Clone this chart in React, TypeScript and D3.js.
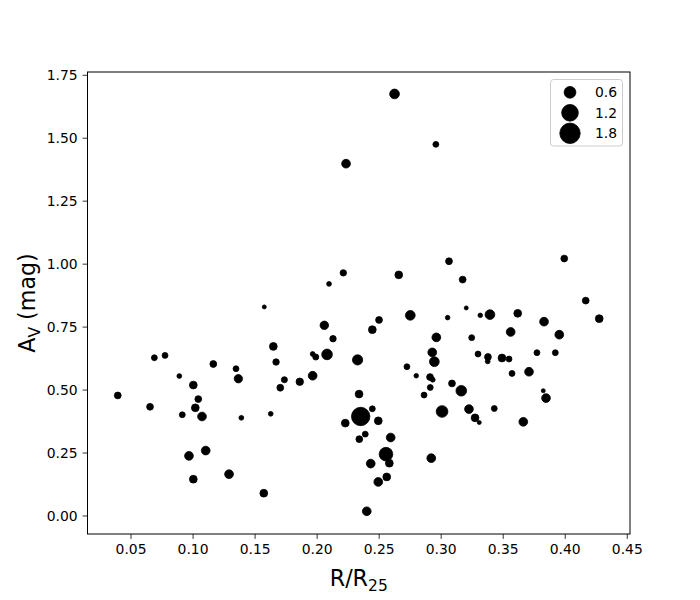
import React from "react";
import * as d3 from "d3";

// R/R25 values
const rr: number[] = [
  0.0393, 0.0653, 0.0688, 0.0774, 0.0889, 0.0913, 0.0967, 0.1002, 0.1002, 0.1042,
  0.1018, 0.1072, 0.1102, 0.1163, 0.129, 0.1346, 0.1365, 0.1389, 0.157, 0.1574,
  0.1626, 0.1647, 0.1669, 0.1703, 0.1736, 0.186, 0.1964, 0.1964, 0.1989, 0.2058,
  0.208, 0.2096, 0.2128, 0.2211, 0.2227, 0.2233, 0.2326, 0.2338, 0.2351, 0.234,
  0.2388, 0.24, 0.2432, 0.2445, 0.2445, 0.2493, 0.2493, 0.2499, 0.2555, 0.2561,
  0.2582, 0.2593, 0.2624, 0.2658, 0.2724, 0.2751, 0.2799, 0.2862, 0.291, 0.2932,
  0.2912, 0.292, 0.2928, 0.2945, 0.2957, 0.2961, 0.3007, 0.3052, 0.3063, 0.3087,
  0.3162, 0.3173, 0.3202, 0.3224, 0.3246, 0.3273, 0.3297, 0.3307, 0.3315, 0.3375,
  0.3377, 0.3393, 0.3428, 0.349, 0.3547, 0.356, 0.3571, 0.3617, 0.3662, 0.3708,
  0.3772, 0.3823, 0.3829, 0.3845, 0.392, 0.3952, 0.3992, 0.4165, 0.4274,
];

// A_V (mag) values
const av: number[] = [
  0.4785, 0.4336, 0.6285, 0.6376, 0.5557, 0.4018, 0.2387, 0.52, 0.146, 0.4642,
  0.4296, 0.395, 0.2597, 0.6034, 0.1659, 0.5847, 0.545, 0.3898, 0.0903, 0.8302,
  0.4057, 0.6734, 0.6114, 0.5092, 0.541, 0.533, 0.5569, 0.6432, 0.6313, 0.757,
  0.6416, 0.9216, 0.704, 0.9654, 0.3687, 1.399, 0.6197, 0.4841, 0.395, 0.3051,
  0.325, 0.0187, 0.208, 0.4256, 0.7399, 0.3779, 0.1352, 0.7784, 0.2454, 0.1551,
  0.2096, 0.3115, 1.6758, 0.9574, 0.5927, 0.7967, 0.5569, 0.4801, 0.5517, 0.541,
  0.5103, 0.2295, 0.6496, 0.6126, 1.4757, 0.7092, 0.4149, 0.7876, 1.0115, 0.5263,
  0.4972, 0.9387, 0.8262, 0.4244, 0.708, 0.3898, 0.6432, 0.3711, 0.7967, 0.6138,
  0.6313, 0.7995, 0.4268, 0.6273, 0.6233, 0.7307, 0.566, 0.8047, 0.3739, 0.5728,
  0.6484, 0.4972, 0.7717, 0.4682, 0.6484, 0.72, 1.0223, 0.8552, 0.7836,
];

// marker size variable
const sz: number[] = [
  0.2, 0.2, 0.15, 0.15, 0.1, 0.15, 0.33, 0.26, 0.26, 0.2,
  0.26, 0.33, 0.33, 0.2, 0.33, 0.15, 0.3, 0.1, 0.26, 0.07,
  0.1, 0.26, 0.18, 0.2, 0.16, 0.24, 0.33, 0.1, 0.16, 0.31,
  0.49, 0.1, 0.18, 0.18, 0.26, 0.33, 0.45, 0.26, 1.47, 0.2,
  0.15, 0.33, 0.33, 0.15, 0.26, 0.26, 0.33, 0.2, 0.8, 0.26,
  0.26, 0.33, 0.41, 0.26, 0.15, 0.41, 0.09, 0.15, 0.2, 0.1,
  0.15, 0.33, 0.33, 0.41, 0.15, 0.33, 0.59, 0.09, 0.2, 0.2,
  0.49, 0.2, 0.07, 0.33, 0.15, 0.26, 0.15, 0.07, 0.09, 0.1,
  0.2, 0.41, 0.15, 0.26, 0.15, 0.33, 0.15, 0.26, 0.33, 0.33,
  0.15, 0.07, 0.33, 0.33, 0.15, 0.33, 0.2, 0.2, 0.26,
];

const xTicks: number[] = [0.05, 0.1, 0.15, 0.2, 0.25, 0.3, 0.35, 0.4, 0.45];
const yTicks: number[] = [0, 0.25, 0.5, 0.75, 1.0, 1.25, 1.5, 1.75];
const legendSizes: number[] = [0.6, 1.2, 1.8];

const W = 700;
const H = 600;
const L = 87.5;
const R = 630;
const T = 72;
const B = 534;
const FONT = "DejaVu Sans, sans-serif";

export default function App() {
  const x = d3.scaleLinear().domain([0.0149, 0.4522]).range([L, R]);
  const y = d3.scaleLinear().domain([-0.0716, 1.763]).range([B, T]);
  const r = d3.scaleSqrt().domain([0, 1.8]).range([0, 10.2]);
  const fmt = d3.format(".2f");

  return (
    <svg
      width={W}
      height={H}
      style={{ position: "absolute", left: 0, top: 0 }}
      fontFamily={FONT}
    >
      <rect x={0} y={0} width={W} height={H} fill="#ffffff" />
      {rr.map((v, i) => (
        <circle
          key={i}
          cx={x(v)}
          cy={y(av[i])}
          r={r(sz[i])}
          fill="#000000"
          stroke="#000000"
          strokeWidth={0.8}
        />
      ))}
      <rect
        x={L}
        y={T}
        width={R - L}
        height={B - T}
        fill="none"
        stroke="#000000"
        strokeWidth={1}
      />
      {xTicks.map((t) => (
        <g key={"x" + t}>
          <line x1={x(t)} x2={x(t)} y1={B} y2={B + 4.9} stroke="#000" strokeWidth={0.8} />
          <text x={x(t)} y={B + 20} fontSize={13.9} textAnchor="middle" fill="#000">
            {fmt(t)}
          </text>
        </g>
      ))}
      {yTicks.map((t) => (
        <g key={"y" + t}>
          <line x1={L - 4.9} x2={L} y1={y(t)} y2={y(t)} stroke="#000" strokeWidth={0.8} />
          <text
            x={L - 9.8}
            y={y(t)}
            fontSize={13.9}
            textAnchor="end"
            dominantBaseline="central"
            fill="#000"
          >
            {fmt(t)}
          </text>
        </g>
      ))}
      <text x={(L + R) / 2} y={586} fontSize={22.2} textAnchor="middle" fill="#000">
        R/R
        <tspan fontSize={15.5} dy={5}>25</tspan>
      </text>
      <text
        transform={`translate(35, ${(T + B) / 2}) rotate(-90)`}
        fontSize={22.2}
        textAnchor="middle"
        fill="#000"
      >
        A
        <tspan fontSize={15.5} dy={5}>V</tspan>
        <tspan dy={-5}> (mag)</tspan>
      </text>
      <g>
        <rect
          x={550.5}
          y={79.5}
          width={72}
          height={66.5}
          rx={3}
          ry={3}
          fill="#ffffff"
          fillOpacity={0.8}
          stroke="#cccccc"
          strokeWidth={1}
        />
        {legendSizes.map((s, i) => (
          <g key={"l" + s}>
            <circle
              cx={570}
              cy={92.3 + i * 20.5}
              r={r(s)}
              fill="#000"
              stroke="#000"
              strokeWidth={0.8}
            />
            <text
              x={595}
              y={92.3 + i * 20.5}
              fontSize={13.9}
              dominantBaseline="central"
              fill="#000"
            >
              {s.toFixed(1)}
            </text>
          </g>
        ))}
      </g>
    </svg>
  );
}
